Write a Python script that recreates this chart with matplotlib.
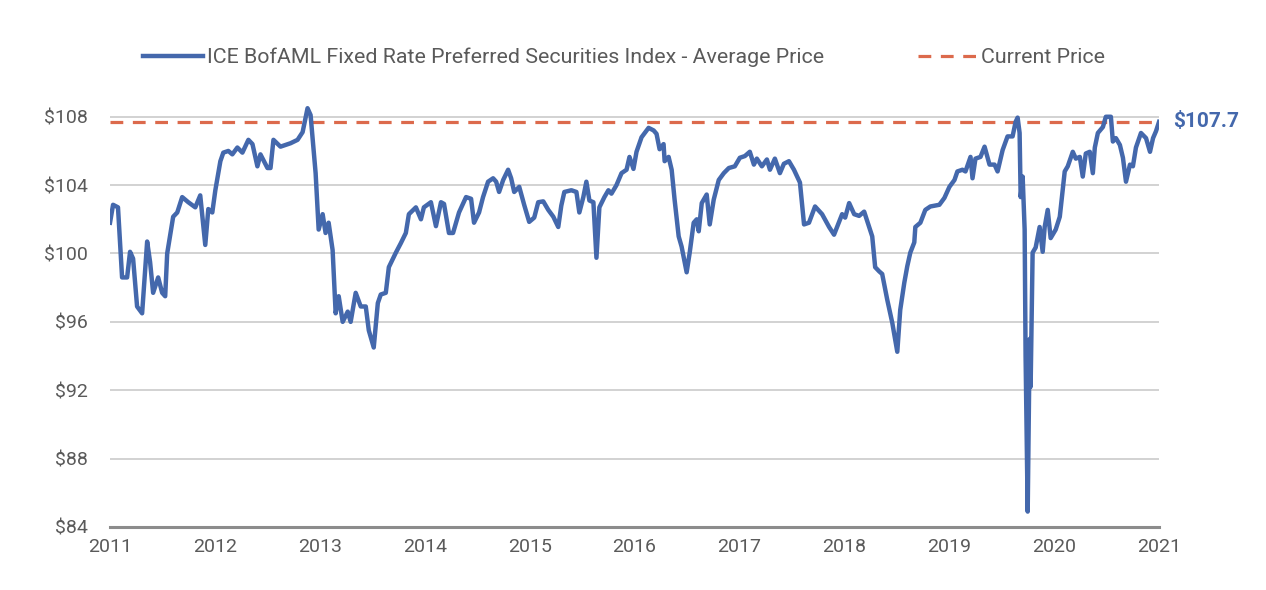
import numpy as np
import matplotlib.pyplot as plt

# weekly-ish readings of the index average price, x in years after 2011
years_after_2011 = [
    0.000, 0.029, 0.076, 0.115, 0.163, 0.191, 0.220, 0.258, 0.306, 0.354,
    0.382, 0.411, 0.459, 0.497, 0.526, 0.545, 0.602, 0.641, 0.688, 0.746,
    0.813, 0.860, 0.908, 0.937, 0.975, 1.004, 1.052, 1.080, 1.128, 1.166,
    1.214, 1.262, 1.319, 1.358, 1.405, 1.434, 1.501, 1.530, 1.558, 1.625,
    1.721, 1.788, 1.836, 1.883, 1.912, 1.960, 1.989, 2.027, 2.055, 2.084,
    2.122, 2.151, 2.180, 2.218, 2.266, 2.294, 2.342, 2.390, 2.438, 2.467,
    2.514, 2.553, 2.581, 2.629, 2.658, 2.725, 2.772, 2.820, 2.849, 2.916,
    2.964, 2.992, 3.059, 3.107, 3.155, 3.184, 3.231, 3.270, 3.327, 3.394,
    3.442, 3.470, 3.518, 3.556, 3.604, 3.652, 3.681, 3.709, 3.748, 3.795,
    3.824, 3.853, 3.901, 3.948, 3.996, 4.044, 4.082, 4.130, 4.178, 4.226,
    4.273, 4.302, 4.331, 4.398, 4.446, 4.474, 4.512, 4.541, 4.570, 4.608,
    4.637, 4.665, 4.713, 4.751, 4.780, 4.828, 4.876, 4.924, 4.952, 4.990,
    5.019, 5.067, 5.134, 5.182, 5.210, 5.239, 5.277, 5.287, 5.325, 5.354,
    5.382, 5.421, 5.449, 5.497, 5.526, 5.564, 5.593, 5.612, 5.641, 5.688,
    5.717, 5.755, 5.803, 5.851, 5.899, 5.956, 6.004, 6.052, 6.099, 6.138,
    6.166, 6.214, 6.262, 6.291, 6.338, 6.386, 6.424, 6.472, 6.520, 6.577,
    6.616, 6.663, 6.721, 6.788, 6.855, 6.902, 6.931, 6.979, 7.008, 7.046,
    7.094, 7.141, 7.189, 7.218, 7.266, 7.294, 7.333, 7.361, 7.409, 7.457,
    7.505, 7.533, 7.572, 7.600, 7.629, 7.667, 7.677, 7.725, 7.772, 7.820,
    7.906, 7.954, 8.002, 8.050, 8.078, 8.126, 8.155, 8.203, 8.222, 8.250,
    8.298, 8.337, 8.384, 8.432, 8.461, 8.509, 8.556, 8.604, 8.633, 8.652,
    8.671, 8.681, 8.700, 8.719, 8.728, 8.748, 8.767, 8.776, 8.795, 8.824,
    8.862, 8.891, 8.910, 8.939, 8.967, 9.015, 9.054, 9.082, 9.101, 9.130,
    9.178, 9.207, 9.245, 9.273, 9.302, 9.340, 9.369, 9.388, 9.417, 9.465,
    9.493, 9.541, 9.560, 9.589, 9.627, 9.656, 9.685, 9.723, 9.751, 9.780,
    9.828, 9.876, 9.914, 9.943, 9.971, 10.000,
]
avg_price = [
    101.8, 102.85, 102.7, 98.6, 98.6, 100.1, 99.7, 96.9, 96.5, 100.7,
    99.5, 97.7, 98.6, 97.7, 97.5, 100.0, 102.15, 102.4, 103.3, 103.0,
    102.7, 103.4, 100.5, 102.6, 102.4, 103.7, 105.4, 105.9, 106.0, 105.8,
    106.2, 105.9, 106.65, 106.4, 105.1, 105.8, 105.0, 105.0, 106.65, 106.25,
    106.45, 106.65, 107.1, 108.5, 108.1, 104.7, 101.4, 102.3, 101.2, 101.8,
    100.2, 96.5, 97.5, 96.0, 96.6, 96.0, 97.7, 96.9, 96.9, 95.5,
    94.5, 97.1, 97.6, 97.7, 99.2, 100.05, 100.6, 101.2, 102.3, 102.7,
    102.0, 102.7, 103.0, 101.6, 103.0, 102.9, 101.2, 101.2, 102.4, 103.3,
    103.2, 101.8, 102.4, 103.3, 104.2, 104.4, 104.2, 103.6, 104.3, 104.9,
    104.4, 103.6, 103.9, 102.85, 101.85, 102.1, 103.0, 103.05, 102.55, 102.15,
    101.55, 102.8, 103.6, 103.7, 103.6, 102.4, 103.3, 104.2, 103.1, 103.0,
    99.75, 102.7, 103.3, 103.7, 103.5, 104.0, 104.7, 104.9, 105.65, 104.95,
    105.95, 106.8, 107.35, 107.2, 107.0, 106.1, 106.4, 105.4, 105.65, 104.9,
    103.15, 101.0, 100.4, 98.9, 100.05, 101.8, 102.0, 101.3, 102.95, 103.45,
    101.7, 103.15, 104.3, 104.7, 105.0, 105.1, 105.6, 105.7, 105.95, 105.2,
    105.55, 105.1, 105.5, 104.9, 105.55, 104.7, 105.25, 105.4, 104.9, 104.15,
    101.7, 101.8, 102.75, 102.3, 101.55, 101.1, 101.55, 102.3, 102.1, 102.95,
    102.3, 102.2, 102.45, 101.9, 101.0, 99.2, 98.95, 98.8, 97.3, 95.95,
    94.25, 96.7, 98.3, 99.25, 100.05, 100.65, 101.55, 101.8, 102.55, 102.75,
    102.85, 103.25, 103.9, 104.3, 104.8, 104.9, 104.8, 105.65, 104.4, 105.55,
    105.65, 106.25, 105.2, 105.2, 104.8, 106.05, 106.85, 106.85, 107.7, 107.95,
    107.05, 103.3, 104.5, 101.4, 94.0, 84.9, 95.0, 92.2, 100.05, 100.35,
    101.55, 100.1, 101.55, 102.55, 100.9, 101.4, 102.15, 103.7, 104.8, 105.1,
    105.95, 105.55, 105.65, 104.5, 105.85, 105.95, 104.7, 106.2, 107.05, 107.4,
    108.0, 108.0, 106.55, 106.75, 106.35, 105.6, 104.2, 105.2, 105.1, 106.2,
    107.05, 106.75, 105.95, 106.75, 107.15, 107.7,
]
current_price = 107.7
year_labels = [str(y) for y in range(2011, 2022)]
price_ticks = [84, 88, 92, 96, 100, 104, 108]

blue = '#4468ac'
red = '#dc6a4c'
grey_text = '#5a5a5a'

plt.rcParams['font.family'] = ['Roboto', 'DejaVu Sans']

fig = plt.figure(figsize=(12.66, 5.9), dpi=100)
ax = fig.add_axes([0.0869, 0.1068, 0.8286, 0.7185])

x = 2011 + np.array(years_after_2011)
ax.plot(x, avg_price, color=blue, lw=3.2, solid_joinstyle='round',
        label='ICE BofAML Fixed Rate Preferred Securities Index - Average Price',
        zorder=3)
ax.axhline(current_price, color=red, lw=2.3, dashes=(4, 3),
           label='Current Price', zorder=2)

ax.set_xlim(2011, 2021)
ax.set_ylim(84, 108.8)
ax.set_yticks(price_ticks)
ax.set_yticklabels(['$%d' % v for v in price_ticks])
ax.set_xticks(range(2011, 2022))
ax.set_xticklabels(year_labels)
ax.yaxis.grid(True, color='#cfcfcf', lw=1.3)
ax.set_axisbelow(True)
for s in ['top', 'right', 'left']:
    ax.spines[s].set_visible(False)
ax.spines['bottom'].set_color('#8c8c8c')
ax.spines['bottom'].set_linewidth(2.2)
ax.tick_params(axis='both', length=0, labelsize=14, labelcolor=grey_text)
ax.tick_params(axis='y', pad=16)
ax.tick_params(axis='x', pad=8)

ax.annotate('$%.1f' % current_price, xy=(1.0, current_price),
            xycoords=('axes fraction', 'data'), xytext=(10, 0),
            textcoords='offset points', va='center', ha='left',
            fontsize=15, fontweight='bold', color=blue)

fig.legend(loc='center', bbox_to_anchor=(0.493, 0.903), ncol=2,
           frameon=False, fontsize=15.4, handlelength=2.8, handletextpad=0.15,
           columnspacing=4.4, labelcolor=grey_text)

fig.savefig('out.png', dpi=100)
